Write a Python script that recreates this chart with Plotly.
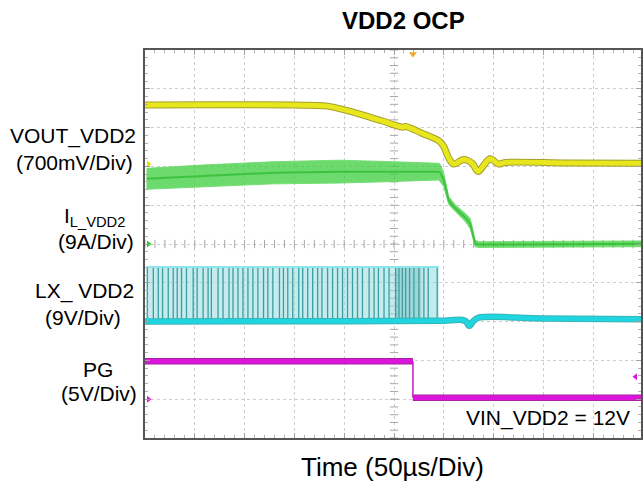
import numpy as np
import plotly.graph_objects as go

# ---------------- data (divisions) ----------------
vout_t = [0.0, 1.5, 3.0, 3.63, 4.03, 4.43, 4.77, 5.0, 5.17, 5.23, 5.57, 5.9, 6.0, 6.1, 6.2,
          6.4, 6.57, 6.69, 6.83, 6.93, 7.1, 7.23, 8.5, 10.0]
vout_v = [8.58, 8.59, 8.58, 8.56, 8.45, 8.30, 8.17, 8.07, 8.01, 8.03, 7.85, 7.66, 7.51, 7.21, 7.06,
          7.18, 7.08, 6.87, 7.08, 7.20, 7.06, 7.10, 7.09, 7.08]

il_t = [0.03, 1.23, 2.57, 3.9, 5.0, 5.9, 5.93, 6.0, 6.1, 6.23, 6.43, 6.53, 6.63, 6.7, 8.5, 10.0]
il_hi = [6.95, 7.04, 7.12, 7.16, 7.12, 7.08, 7.05, 6.82, 6.22, 6.01, 5.79, 5.66, 5.10, 5.06, 5.07, 5.08]
il_lo = [6.41, 6.48, 6.55, 6.57, 6.61, 6.65, 6.62, 6.48, 6.01, 5.83, 5.58, 5.40, 4.93, 4.91, 4.92, 4.93]

lx_base_t = [0.0, 3.0, 5.9, 6.37, 6.45, 6.51, 6.6, 6.7, 8.0, 10.0]
lx_base_v = [3.0, 3.01, 3.02, 3.04, 3.0, 2.89, 3.02, 3.1, 3.08, 3.06]
lx_top = 4.41
lx_burst = [0.03, 5.9]
lx_dense = [5.03, 5.55]
lx_pulses = [0.047, 0.167, 0.267, 0.353, 0.467, 0.567, 0.647, 0.733, 0.833, 0.967, 1.047, 1.167,
             1.267, 1.333, 1.467, 1.567, 1.687, 1.767, 1.867, 1.967, 2.067, 2.167, 2.267, 2.38,
             2.467, 2.567, 2.7, 2.78, 2.867, 2.967, 3.087, 3.167, 3.267, 3.367, 3.467, 3.553,
             3.667, 3.767, 3.867, 3.967, 4.067, 4.167, 4.267, 4.367, 4.5, 4.6, 4.687, 4.8, 4.9,
             5.033, 5.1, 5.167, 5.233, 5.313, 5.4, 5.5, 5.6, 5.687, 5.867]

pg_t = [0.0, 5.38, 5.38, 10.0]
pg_v = [1.98, 1.98, 1.04, 1.04]

# scope ground / trigger markers
gnd_colors = ["#e0e000", "#22cc22", "#1ed3dc", "#d818d8"]
gnd_levels = [7.06, 5.0, 3.04, 1.0]
trig_t, trig_y = 5.38, 9.9
pg_ref_t, pg_ref_y = 9.85, 1.58

# ---------------- layout geometry ----------------
W, H = 643, 491
L, R, T, B = 145, 0, 50, 53
PW = W - L - R
PH = H - T - B
XMAX = PW / 50.0


def px(xp):
    return (xp - L) / PW


def py(yp):
    return (H - B - yp) / PH


fig = go.Figure()

# graticule center-line ticks
tick_x = np.arange(0, 10.01, 0.2)
tick_y = np.arange(0, 10.01, 0.2)
fig.add_trace(go.Scatter(x=tick_x, y=[5] * len(tick_x), mode="markers",
                         marker=dict(symbol="line-ns-open", size=6, color="#a8a8a8",
                                     line=dict(width=1, color="#a8a8a8")),
                         hoverinfo="skip", showlegend=False))
fig.add_trace(go.Scatter(x=[5] * len(tick_y), y=tick_y, mode="markers",
                         marker=dict(symbol="line-ew-open", size=6, color="#a8a8a8",
                                     line=dict(width=1, color="#a8a8a8")),
                         hoverinfo="skip", showlegend=False))

# LX switching burst: light fill + individual pulse lines
fig.add_trace(go.Scatter(x=[lx_burst[0], lx_burst[1], lx_burst[1], lx_burst[0], lx_burst[0]],
                         y=[lx_base_v[0], lx_base_v[2], lx_top, lx_top, lx_base_v[0]],
                         fill="toself", fillcolor="rgba(150,218,222,0.55)", mode="lines",
                         line=dict(width=0), hoverinfo="skip", showlegend=False))
fig.add_trace(go.Scatter(x=[lx_dense[0], lx_dense[1], lx_dense[1], lx_dense[0], lx_dense[0]],
                         y=[lx_base_v[0], lx_base_v[0], lx_top, lx_top, lx_base_v[0]],
                         fill="toself", fillcolor="rgba(90,175,178,0.35)", mode="lines",
                         line=dict(width=0), hoverinfo="skip", showlegend=False))
pxs, pys = [], []
for p in lx_pulses:
    pxs += [p, p, None]
    pys += [lx_base_v[0], lx_top, None]
fig.add_trace(go.Scatter(x=pxs, y=pys, mode="lines", line=dict(color="#3a9fa2", width=1.3),
                         hoverinfo="skip", showlegend=False))
fig.add_trace(go.Scatter(x=lx_burst, y=[lx_top, lx_top], mode="lines",
                         line=dict(color="#8fe6ea", width=2), hoverinfo="skip", showlegend=False))
# LX baseline
fig.add_trace(go.Scatter(x=lx_base_t, y=lx_base_v, mode="lines", line_shape="spline",
                         line=dict(color="#3ab3b6", width=6.5), hoverinfo="skip", showlegend=False))
fig.add_trace(go.Scatter(x=lx_base_t, y=lx_base_v, mode="lines", line_shape="spline",
                         line=dict(color="#1fd6e0", width=4.5), hoverinfo="skip", showlegend=False))

# inductor current band
fig.add_trace(go.Scatter(x=il_t + il_t[::-1], y=il_hi + il_lo[::-1], fill="toself",
                         fillcolor="rgba(60,205,60,0.75)", mode="lines",
                         line=dict(color="rgba(110,220,110,0.9)", width=1),
                         hoverinfo="skip", showlegend=False))
fig.add_trace(go.Scatter(x=il_t, y=[(a + b) / 2 for a, b in zip(il_hi, il_lo)], mode="lines",
                         line=dict(color="rgba(25,175,25,0.55)", width=2),
                         hoverinfo="skip", showlegend=False))

# VOUT
fig.add_trace(go.Scatter(x=vout_t, y=vout_v, mode="lines", line_shape="spline",
                         line=dict(color="#a3a02c", width=7), hoverinfo="skip", showlegend=False))
fig.add_trace(go.Scatter(x=vout_t, y=vout_v, mode="lines", line_shape="spline",
                         line=dict(color="#e8e61c", width=5), hoverinfo="skip", showlegend=False))

# PG: thick levels, thin edge
seg_x = [pg_t[0], pg_t[1], None, pg_t[2], pg_t[3]]
seg_y = [pg_v[0], pg_v[1], None, pg_v[2], pg_v[3]]
fig.add_trace(go.Scatter(x=[pg_t[1], pg_t[2]], y=[pg_v[1], pg_v[2]], mode="lines",
                         line=dict(color="#c020c0", width=1.5), hoverinfo="skip", showlegend=False))
fig.add_trace(go.Scatter(x=seg_x, y=seg_y, mode="lines",
                         line=dict(color="#a8229f", width=6.5), hoverinfo="skip", showlegend=False))
fig.add_trace(go.Scatter(x=seg_x, y=seg_y, mode="lines",
                         line=dict(color="#dc14dc", width=4.5), hoverinfo="skip", showlegend=False))

# ground markers on left edge
fig.add_trace(go.Scatter(x=[0.07] * 4, y=gnd_levels, mode="markers",
                         marker=dict(symbol="triangle-right", size=6, color=gnd_colors),
                         hoverinfo="skip", showlegend=False))
fig.add_trace(go.Scatter(x=[trig_t], y=[trig_y], mode="markers",
                         marker=dict(symbol="triangle-down", size=7, color="#f0a828"),
                         hoverinfo="skip", showlegend=False))
fig.add_trace(go.Scatter(x=[pg_ref_t], y=[pg_ref_y], mode="markers",
                         marker=dict(symbol="triangle-left", size=6, color="#d818d8"),
                         hoverinfo="skip", showlegend=False))

axis_common = dict(showgrid=True, gridcolor="#cdcdcd", griddash="dot", gridwidth=1,
                   zeroline=False, showticklabels=False, showline=True, linecolor="#555555",
                   linewidth=1.5, mirror="ticks", ticks="inside", ticklen=5, tickcolor="#a0a0a0",
                   dtick=1, tick0=0,
                   minor=dict(dtick=0.2, ticks="inside", ticklen=3, tickcolor="#b0b0b0",
                              showgrid=False))
fig.update_xaxes(range=[0, XMAX], **axis_common)
fig.update_yaxes(range=[0, 10], **axis_common)

FONT = "Arial, Liberation Sans, sans-serif"
ann = []
ann.append(dict(text="<b>VDD2 OCP</b>", x=px(405), y=py(20), font=dict(size=24, color="black")))
ann.append(dict(text="Time (50µs/Div)", x=px(393), y=py(467), font=dict(size=26, color="black")))
labels = [("VOUT_VDD2", 73, 136), ("(700mV/Div)", 74, 162),
          ("I<sub>L_VDD2</sub>", 94, 217), ("(9A/Div)", 96, 241),
          ("LX_ VDD2", 84, 291), ("(9V/Div)", 83, 317),
          ("PG", 98, 369), ("(5V/Div)", 99, 393)]
for t, xx, yy in labels:
    ann.append(dict(text=t, x=px(xx), y=py(yy), font=dict(size=21, color="black")))
ann.append(dict(text="VIN_VDD2 = 12V", x=px(550), y=py(418), font=dict(size=21, color="black")))
for a in ann:
    a.update(xref="paper", yref="paper", showarrow=False, xanchor="center", yanchor="middle")
    a["font"]["family"] = FONT

fig.update_layout(width=W, height=H, margin=dict(l=L, r=R, t=T, b=B, pad=0),
                  plot_bgcolor="white", paper_bgcolor="white", annotations=ann,
                  font=dict(family=FONT), showlegend=False)

fig.write_html("out.html")
